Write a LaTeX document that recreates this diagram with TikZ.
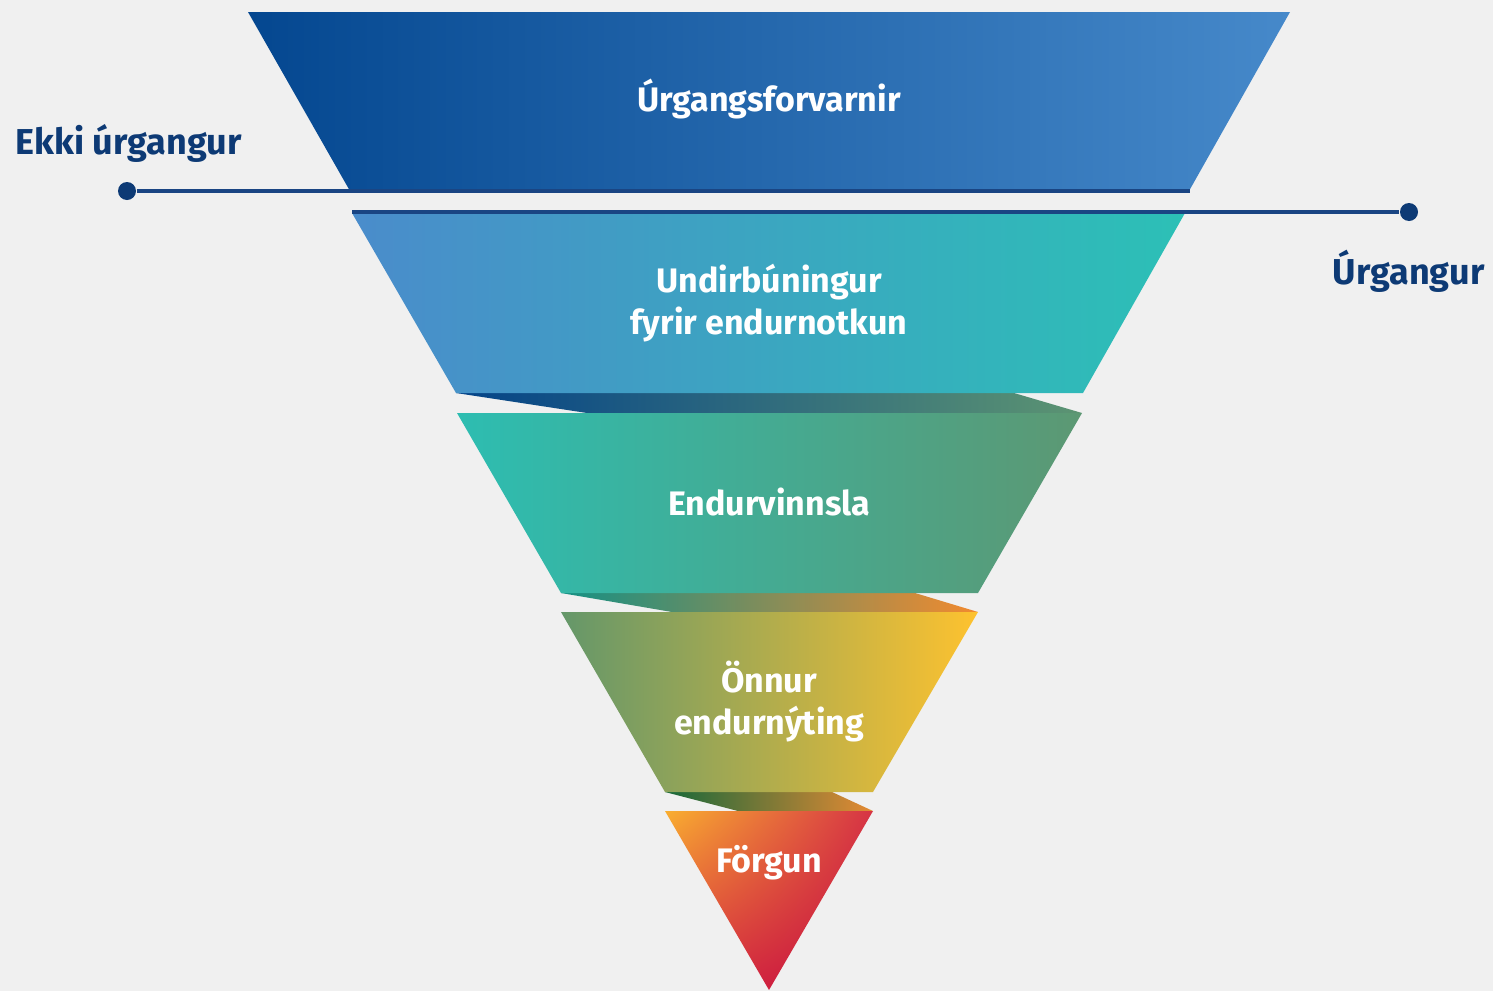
\documentclass[tikz,border=0pt]{standalone}
\usepackage{fontspec}
\setmainfont{Fira Sans}
\usetikzlibrary{positioning, shadings}

\definecolor{paper}{HTML}{F0F0F0}
\definecolor{navy}{HTML}{0D3A75}
\definecolor{rule}{HTML}{1A4583}
\definecolor{b1l}{HTML}{044790}
\definecolor{b1r}{HTML}{4689CA}
\definecolor{b2l}{HTML}{4A8CCB}
\definecolor{b2r}{HTML}{2CC0B6}
\definecolor{b3l}{HTML}{2DBDB1}
\definecolor{b3r}{HTML}{5C9873}
\definecolor{b4l}{HTML}{64976A}
\definecolor{b4r}{HTML}{FEC22F}
\definecolor{b5ul}{HTML}{F9AE30}
\definecolor{b5ur}{HTML}{D63345}
\definecolor{b5ll}{HTML}{D8303F}
\definecolor{b5lr}{HTML}{C40C40}
\definecolor{r1l}{HTML}{044388}
\definecolor{r1r}{HTML}{5C9472}
\definecolor{r2l}{HTML}{159084}
\definecolor{r2r}{HTML}{F28A2F}
\definecolor{r3l}{HTML}{16683A}
\definecolor{r3r}{HTML}{E58A33}

\begin{document}
\begin{tikzpicture}[
            x = 0.5pt, y = -0.5pt, % one unit = one pixel, y going down
            line join = round,
            semithick % line style
        ]

        \tikzstyle{band text}=[
            text = white,
            font = \bfseries\fontsize{17}{21}\selectfont,
            align = center
        ]
        \tikzstyle{side text}=[
            text = navy,
            font = \bfseries\fontsize{18}{21}\selectfont,
            inner sep = 0pt
        ]
        \tikzstyle{dot}=[
            circle,
            fill = navy,
            inner sep = 0pt,
            minimum size = 9pt
        ]
        \tikzstyle{rule line}=[
            draw = rule,
            line width = 1.6pt
        ]

        % background
        \fill[paper] (0,0) rectangle (1493,991);

        % folds between the bands
        \shade[left color = r1l, right color = r1r] (456,393) -- (1014,393) -- (1082,413) -- (587,413) -- cycle;
        \shade[left color = r2l, right color = r2r] (561,593) -- (915,593) -- (978,612) -- (672,612) -- cycle;
        \shade[left color = r3l, right color = r3r] (665,792) -- (832,792) -- (873,811) -- (738,811) -- cycle;

        % bands
        \shade[left color = b1l, right color = b1r] (248,12) -- (1290,12) -- (1189,191) -- (350,191) -- cycle;
        \shade[left color = b2l, right color = b2r] (352,213) -- (1185,213) -- (1083,393) -- (456,393) -- cycle;
        \shade[left color = b3l, right color = b3r] (457,413) -- (1082,413) -- (978,593) -- (561,593) -- cycle;
        \shade[left color = b4l, right color = b4r] (561,612) -- (978,612) -- (873,792) -- (665,792) -- cycle;
        \shade[upper left = b5ul, upper right = b5ur, lower left = b5ll, lower right = b5lr]
            (665,811) -- (873,811) -- (769,990) -- cycle;

        % waste / no waste lines
        \node[dot] (no waste dot) at (127,191) {};
        \coordinate (no waste end) at (1190,191);
        \node[dot] (waste dot) at (1409,212) {};
        \coordinate (waste end) at (352,212);
        \draw[rule line] (no waste dot) -- (no waste end);
        \draw[rule line] (waste end) -- (waste dot);

        \node[side text, anchor = base west] (no waste) at (15,154) {Ekki úrgangur};
        \node[side text, anchor = base east] (waste) at (1485,284) {Úrgangur};

        % band labels
        \node[band text] (prevention) at (769,99) {Úrgangsforvarnir};
        \node[band text] (reuse) at (769,303) {Undirbúningur\\fyrir endurnotkun};
        \node[band text] (recycling) at (769,502) {Endurvinnsla};
        \node[band text] (recovery) at (769,702) {Önnur\\endurnýting};
        \node[band text] (disposal) at (769,863) {Förgun};
    \end{tikzpicture}
\end{document}
